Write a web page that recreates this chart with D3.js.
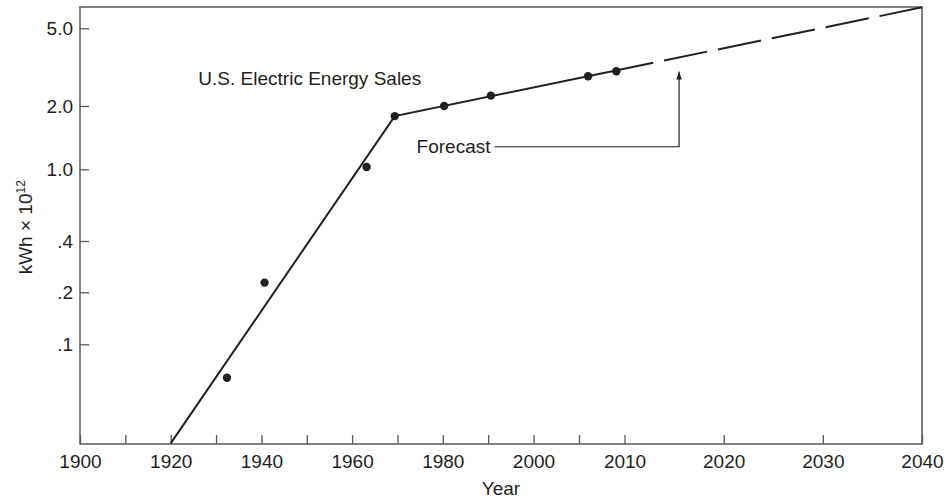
<!DOCTYPE html>
<html>
<head>
<meta charset="utf-8">
<script src="https://cdn.jsdelivr.net/npm/d3@7"></script>
<style>
  html, body { margin: 0; padding: 0; background: #fff; }
  svg { display: block; }
  text { font-family: "Liberation Sans", Arial, Helvetica, sans-serif; fill: #231f20; }
</style>
</head>
<body>
<script>
// Observed annual U.S. electric energy sales (10^12 kWh)
const saleYears  = [1932.4, 1940.7, 1963.2, 1969.4, 1980.3, 1990.6, 2006.0, 2009.1];
const saleValues = [0.064, 0.228, 1.025, 1.79, 2.0, 2.26, 2.84, 3.01];

// Fitted trend: steep early growth, then slower growth to the forecast horizon
const trendYears  = [1920, 1969.4, 2012.9];
const trendValues = [0.0267, 1.79, 3.33];
const forecastYears  = [2012.9, 2040];
const forecastValues = [3.33, 6.4];

// Axis ticks
const xTickYears  = [1900, 1910, 1920, 1930, 1940, 1950, 1960, 1970, 1980, 1990, 2000, 2005, 2010, 2020, 2030, 2040];
const xLabelYears = [1900, 1920, 1940, 1960, 1980, 2000, 2010, 2020, 2030, 2040];
const yTickValues = [5, 2, 1, 0.4, 0.2, 0.1];
const yTickLabels = ["5.0", "2.0", "1.0", ".4", ".2", ".1"];

// Annotations
const titleText = "U.S. Electric Energy Sales";
const titleAt = [1926.1, 2.56];
const forecastLabel = "Forecast";
const forecastPointer = [[1991.4, 1.28], [2015.5, 1.28], [2015.5, 3.0]];

const W = 944, H = 502;
const margin = { top: 7, right: 22, bottom: 58, left: 80 };
const iw = W - margin.left - margin.right;
const ih = H - margin.top - margin.bottom;

const svg = d3.select("body").append("svg").attr("width", W).attr("height", H);
const g = svg.append("g").attr("transform", `translate(${margin.left},${margin.top})`);

// The year axis is stretched after 2000 (piecewise linear)
const x = d3.scaleLinear()
  .domain([1900, 2000, 2010, 2040])
  .range([0, 0.5386 * iw, 0.6467 * iw, iw]);

// Logarithmic value axis with hand-set spacing between labelled values
const y = d3.scaleLog()
  .domain([0.1, 0.2, 0.4, 1, 2, 5])
  .range([0.7719 * ih, 0.6529 * ih, 0.5355 * ih, 0.3714 * ih, 0.2265 * ih, 0.0487 * ih]);

const axisColor = "#58595b";
const ink = "#231f20";
const fontSize = 19;

// x axis
const xAxis = d3.axisBottom(x)
  .tickValues(xTickYears)
  .tickSize(-9)
  .tickPadding(11)
  .tickFormat(d => xLabelYears.includes(d) ? String(d) : "");
const gx = g.append("g").attr("transform", `translate(0,${ih})`).call(xAxis);
gx.select(".domain").remove();
gx.selectAll(".tick line").attr("stroke", axisColor).attr("stroke-width", 1.3);
gx.selectAll(".tick text").attr("font-size", fontSize).style("font-family", "Liberation Sans, Arial, sans-serif").attr("fill", ink);

// y axis
const yAxis = d3.axisLeft(y)
  .tickValues(yTickValues)
  .tickSize(-9)
  .tickPadding(7)
  .tickFormat((d, i) => yTickLabels[i]);
const gy = g.append("g").call(yAxis);
gy.select(".domain").remove();
gy.selectAll(".tick line").attr("stroke", axisColor).attr("stroke-width", 1.3);
gy.selectAll(".tick text").attr("font-size", fontSize).style("font-family", "Liberation Sans, Arial, sans-serif").attr("fill", ink);

// frame
g.append("rect")
  .attr("x", 0).attr("y", 0).attr("width", iw).attr("height", ih)
  .attr("fill", "none").attr("stroke", axisColor).attr("stroke-width", 1.5);

// axis titles
svg.append("text")
  .attr("x", margin.left + iw / 2).attr("y", 495)
  .attr("text-anchor", "middle").attr("font-size", fontSize)
  .text("Year");

const yt = svg.append("text")
  .attr("transform", `translate(32,${margin.top + ih * 0.504}) rotate(-90)`)
  .attr("text-anchor", "middle").attr("font-size", fontSize);
yt.append("tspan").text("kWh \u00d7 10");
yt.append("tspan").attr("font-size", 12).attr("dy", -7).text("12");

// trend lines
const line = d3.line().x(d => x(d[0])).y(d => y(d[1]));
g.append("path")
  .datum(trendYears.map((t, i) => [t, trendValues[i]]))
  .attr("d", line).attr("fill", "none").attr("stroke", ink).attr("stroke-width", 2);
g.append("path")
  .datum(forecastYears.map((t, i) => [t, forecastValues[i]]))
  .attr("d", line).attr("fill", "none").attr("stroke", ink).attr("stroke-width", 2)
  .attr("stroke-dasharray", "44 11").attr("stroke-dashoffset", 55 - 11);

// data points
g.selectAll("circle.sale")
  .data(saleYears.map((t, i) => [t, saleValues[i]]))
  .join("circle").attr("class", "sale")
  .attr("cx", d => x(d[0])).attr("cy", d => y(d[1])).attr("r", 4.2)
  .attr("fill", ink);

// title label
g.append("text")
  .attr("x", x(titleAt[0])).attr("y", y(titleAt[1]))
  .attr("font-size", fontSize).text(titleText);

// forecast pointer with arrowhead
svg.append("defs").append("marker")
  .attr("id", "arrowhead").attr("viewBox", "0 0 10 10")
  .attr("refX", 10).attr("refY", 5)
  .attr("markerWidth", 8).attr("markerHeight", 8)
  .attr("markerUnits", "userSpaceOnUse")
  .attr("orient", "auto")
  .append("path").attr("d", "M0,1.5 L10,5 L0,8.5 Z").attr("fill", ink);

g.append("path")
  .datum(forecastPointer)
  .attr("d", line).attr("fill", "none").attr("stroke", ink).attr("stroke-width", 1.2)
  .attr("marker-end", "url(#arrowhead)");

g.append("text")
  .attr("x", x(forecastPointer[0][0]) - 4).attr("y", y(forecastPointer[0][1]))
  .attr("dy", "0.35em").attr("text-anchor", "end")
  .attr("font-size", fontSize).text(forecastLabel);
</script>
</body>
</html>
